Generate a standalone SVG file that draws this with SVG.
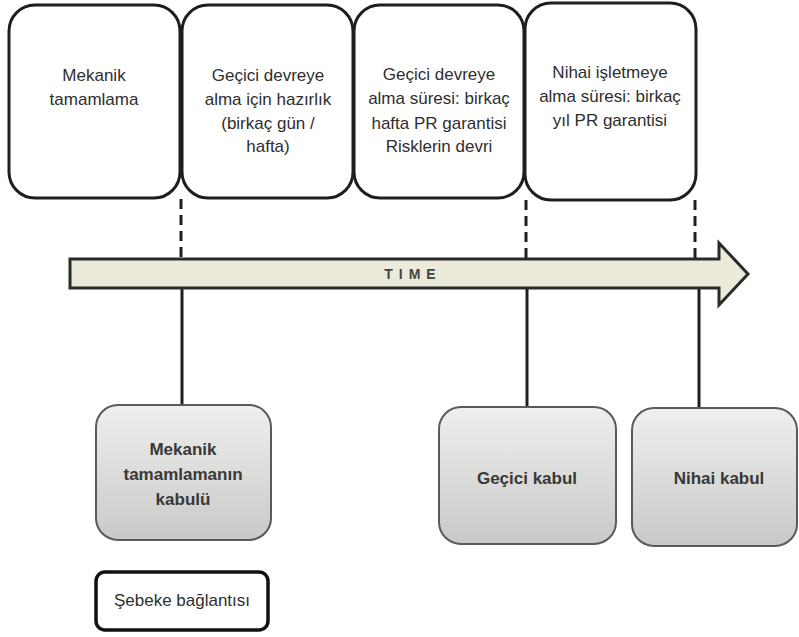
<svg xmlns="http://www.w3.org/2000/svg" width="799" height="637" viewBox="0 0 799 637">
<defs>
<linearGradient id="gr" x1="0" y1="0" x2="0" y2="1">
<stop offset="0" stop-color="#efefed"/>
<stop offset="1" stop-color="#c9c9c7"/>
</linearGradient>
<style>
.top{fill:#fff;stroke:#1e1e1e;stroke-width:3}
.low{fill:url(#gr);stroke:#5a5a5a;stroke-width:2}
.t{font-family:"Liberation Sans",Arial,sans-serif;font-size:17px;fill:#2e2e2e;text-anchor:middle}
.b{font-weight:bold;fill:#383838}
.dash{stroke:#1e1e1e;stroke-width:3;stroke-dasharray:10 6;fill:none}
.sol{stroke:#1e1e1e;stroke-width:3;fill:none}
</style>
</defs>
<rect width="799" height="637" fill="#fff"/>
<g id="connectors">
<line class="dash" x1="181" y1="199" x2="181" y2="259"/>
<line class="dash" x1="526" y1="200" x2="526" y2="259"/>
<line class="dash" x1="695" y1="200" x2="695" y2="259"/>
<line class="sol" x1="182" y1="289" x2="182" y2="405"/>
<line class="sol" x1="527" y1="289" x2="527" y2="407"/>
<line class="sol" x1="699" y1="289" x2="699" y2="408"/>
</g>
<g id="n1">
<rect class="top" x="9" y="5" width="171" height="193" rx="26"/>
<text class="t" x="94" y="81">Mekanik</text>
<text class="t" x="94" y="105">tamamlama</text>
</g>
<g id="n2">
<rect class="top" x="182" y="5" width="171" height="193" rx="26"/>
<text class="t" x="268" y="81">Geçici devreye</text>
<text class="t" x="268" y="105">alma için hazırlık</text>
<text class="t" x="268" y="129">(birkaç gün /</text>
<text class="t" x="268" y="152">hafta)</text>
</g>
<g id="n3">
<rect class="top" x="354" y="5" width="170" height="193" rx="26"/>
<text class="t" x="439" y="80">Geçici devreye</text>
<text class="t" x="439" y="104">alma süresi: birkaç</text>
<text class="t" x="439" y="129">hafta PR garantisi</text>
<text class="t" x="439" y="152">Risklerin devri</text>
</g>
<g id="n4">
<rect class="top" x="525" y="3" width="171" height="197" rx="26"/>
<text class="t" x="610" y="78">Nihai işletmeye</text>
<text class="t" x="610" y="102">alma süresi: birkaç</text>
<text class="t" x="610" y="126">yıl PR garantisi</text>
</g>
<g id="time">
<polygon points="70,259 719,259 719,243 748,274 719,305 719,288 70,288" fill="#ebeadb" stroke="#2a2a2a" stroke-width="3" stroke-linejoin="miter"/>
<text x="413" y="279" font-family="'Liberation Sans',Arial,sans-serif" font-size="14" font-weight="bold" fill="#444" text-anchor="middle" letter-spacing="6">TIME</text>
</g>
<g id="n5">
<rect class="low" x="96" y="405" width="175" height="135" rx="22"/>
<text class="t b" x="183" y="455">Mekanik</text>
<text class="t b" x="183" y="480">tamamlamanın</text>
<text class="t b" x="183" y="505">kabulü</text>
</g>
<g id="n6">
<rect class="low" x="439" y="407" width="177" height="137" rx="22"/>
<text class="t b" x="527" y="484">Geçici kabul</text>
</g>
<g id="n7">
<rect class="low" x="632" y="408" width="165" height="138" rx="22"/>
<text class="t b" x="719" y="484">Nihai kabul</text>
</g>
<g id="n8">
<rect x="96" y="572" width="172" height="58" rx="9" fill="#fff" stroke="#111" stroke-width="3.5"/>
<text class="t" x="182" y="606">Şebeke bağlantısı</text>
</g>
</svg>
